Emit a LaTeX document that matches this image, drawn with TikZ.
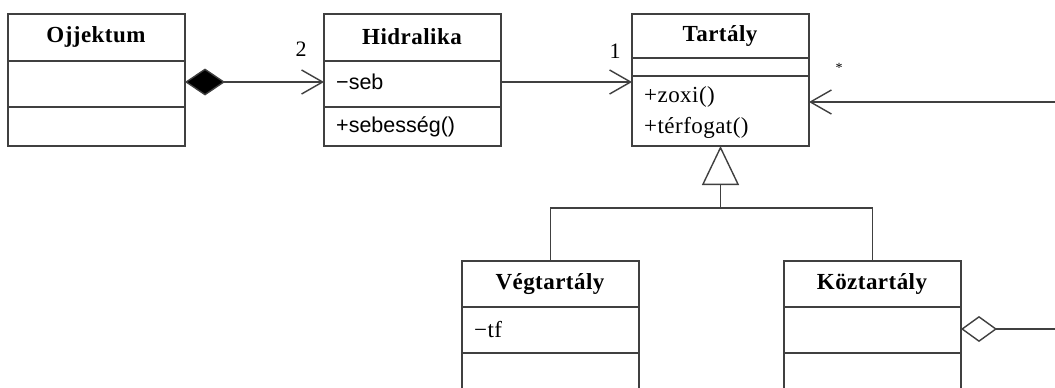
\documentclass[tikz,border=0pt]{standalone}
\usepackage{fontspec}
\setmainfont{Liberation Serif}
\newfontfamily\sansf{Liberation Sans}
\usetikzlibrary{arrows.meta}
\definecolor{ln}{HTML}{404040}
\tikzset{
  box/.style={draw=ln, line width=1.4pt, anchor=north west, inner sep=0pt, outer sep=0pt, minimum width=177pt},
  sepline/.style={draw=ln, line width=1.4pt},
  conn/.style={draw=ln, line width=1.4pt},
  ttl/.style={font=\fontsize{23}{26}\selectfont\bfseries\addfontfeature{LetterSpace=2}, inner sep=0pt},
  attr/.style={font=\sansf\fontsize{21.5}{24}\selectfont, anchor=west, inner sep=0pt},
  sattr/.style={font=\fontsize{23}{26}\selectfont\addfontfeature{LetterSpace=2}, anchor=west, inner sep=0pt},
  mult/.style={font=\fontsize{22}{24}\selectfont, inner sep=0pt},
  openarr/.style={-{Straight Barb[length=21pt,width=24pt,line width=1.4pt]}},
}
\begin{document}
\begin{tikzpicture}[x=1pt,y=-1pt]
\clip (0,0) rectangle (1055,388);
\fill[white] (0,0) rectangle (1055,388);
% Ojjektum
\node[box, minimum height=132pt] (oj) at (8,14) {};
\draw[sepline] (8,61) -- (184,61) (8,107) -- (184,107);
\node[ttl] (ojt) at (96,37) {Ojjektum};
% Hidralika
\node[box, minimum height=132pt] (hi) at (324,14) {};
\draw[sepline] (324,61) -- (500,61) (324,107) -- (500,107);
\node[ttl] (hit) at (412,37) {Hidralika};
\node[attr] (hia) at (336,82) {−seb};
\node[attr] (him) at (336,127) {+sebesség()};
% Tartaly
\node[box, minimum height=132pt] (ta) at (632,14) {};
\draw[sepline] (632,58) -- (809,58) (632,76) -- (809,76);
\node[ttl] (tat) at (720,36) {Tartály};
\node[sattr] (tam1) at (644,97) {+zoxi()};
\node[sattr] (tam2) at (644,128) {+térfogat()};
% Vegtartaly
\node[box, minimum height=136pt] (ve) at (462,261) {};
\draw[sepline] (462,307) -- (639,307) (462,353) -- (639,353);
\node[ttl] (vet) at (550,284) {Végtartály};
\node[sattr] (vea) at (474,330) {−tf};
% Koztartaly
\node[box, minimum height=136pt] (ko) at (784,261) {};
\draw[sepline] (784,307) -- (961,307) (784,353) -- (961,353);
\node[ttl] (kot) at (872,284) {Köztartály};
% connectors
\draw[conn, {Diamond[length=40pt,width=27pt,fill=black]}-{Straight Barb[length=21pt,width=24pt,line width=1.4pt]}]
  ([yshift=-2pt]oj.east) -- ([yshift=-2pt]hi.west);
\node[mult] (m2) at (301,49) {2};
\draw[conn, openarr] ([yshift=-2pt]hi.east) -- ([yshift=-2pt]ta.west);
\node[mult] (m1) at (615,51) {1};
\coordinate (rin) at (1060,102);
\draw[conn, openarr] (rin) -- ([yshift=-22pt]ta.east);
\node[font=\fontsize{14}{15}\selectfont, inner sep=0pt] (ms) at (839,68) {*};
\coordinate (jn) at (720.5,208);
\draw[conn, {Triangle[open,length=39pt,width=37pt,fill=white]}-] (ta.south) -- (jn);
\draw[conn] (ve.north) |- (jn) -| (ko.north);
\coordinate (rout) at (1060,329);
\draw[conn, {Diamond[open,length=36pt,width=26pt,fill=white]}-] (ko.east) -- (rout);
\end{tikzpicture}
\end{document}
